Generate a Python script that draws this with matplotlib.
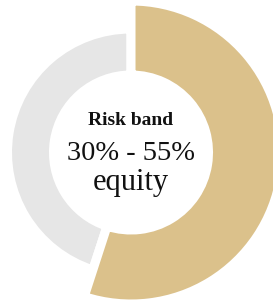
import matplotlib
matplotlib.use("Agg")
from matplotlib import pyplot as plt

# shares of the ring: equity band upper bound vs the rest
labels = ["Equity", "Other"]
shares = [55, 45]
gold = "#dbc18b"
grey = "#e6e6e6"

title = "Risk band"
band = "30% - 55%"
unit = "equity"

fig = plt.figure(figsize=(2.73, 3.02), dpi=100)
ax = fig.add_axes([0, 0, 1, 1])
ax.set_xlim(0, 273)
ax.set_ylim(0, 302)

cx, cy = 131, 149.5
gap = 6.5  # white edge width in points

# grey ring (smaller)
w_grey, _ = ax.pie(shares, radius=123.5, center=(cx, cy), startangle=90,
                   counterclock=False, colors=["none", grey],
                   wedgeprops=dict(width=46, edgecolor="white", linewidth=gap),
                   frame=True)
w_grey[0].set_visible(False)

# gold ring (larger)
w_gold, _ = ax.pie(shares, radius=151.5, center=(cx, cy), startangle=90,
                   counterclock=False, colors=[gold, "none"],
                   wedgeprops=dict(width=74, edgecolor="white", linewidth=gap),
                   frame=True)
w_gold[1].set_visible(False)

ax.set_xlim(0, 273)
ax.set_ylim(0, 302)
ax.set_aspect("equal")
ax.axis("off")

ax.text(cx, 177, title, ha="center", va="baseline", fontsize=14,
        fontweight="bold", family="Liberation Serif", color="#111111")
ax.text(cx, 142, band, ha="center", va="baseline", fontsize=20.5,
        family="Liberation Serif", color="#111111")
ax.text(cx, 112, unit, ha="center", va="baseline", fontsize=22,
        family="Liberation Serif", color="#111111")

fig.savefig("out.png", dpi=100)
